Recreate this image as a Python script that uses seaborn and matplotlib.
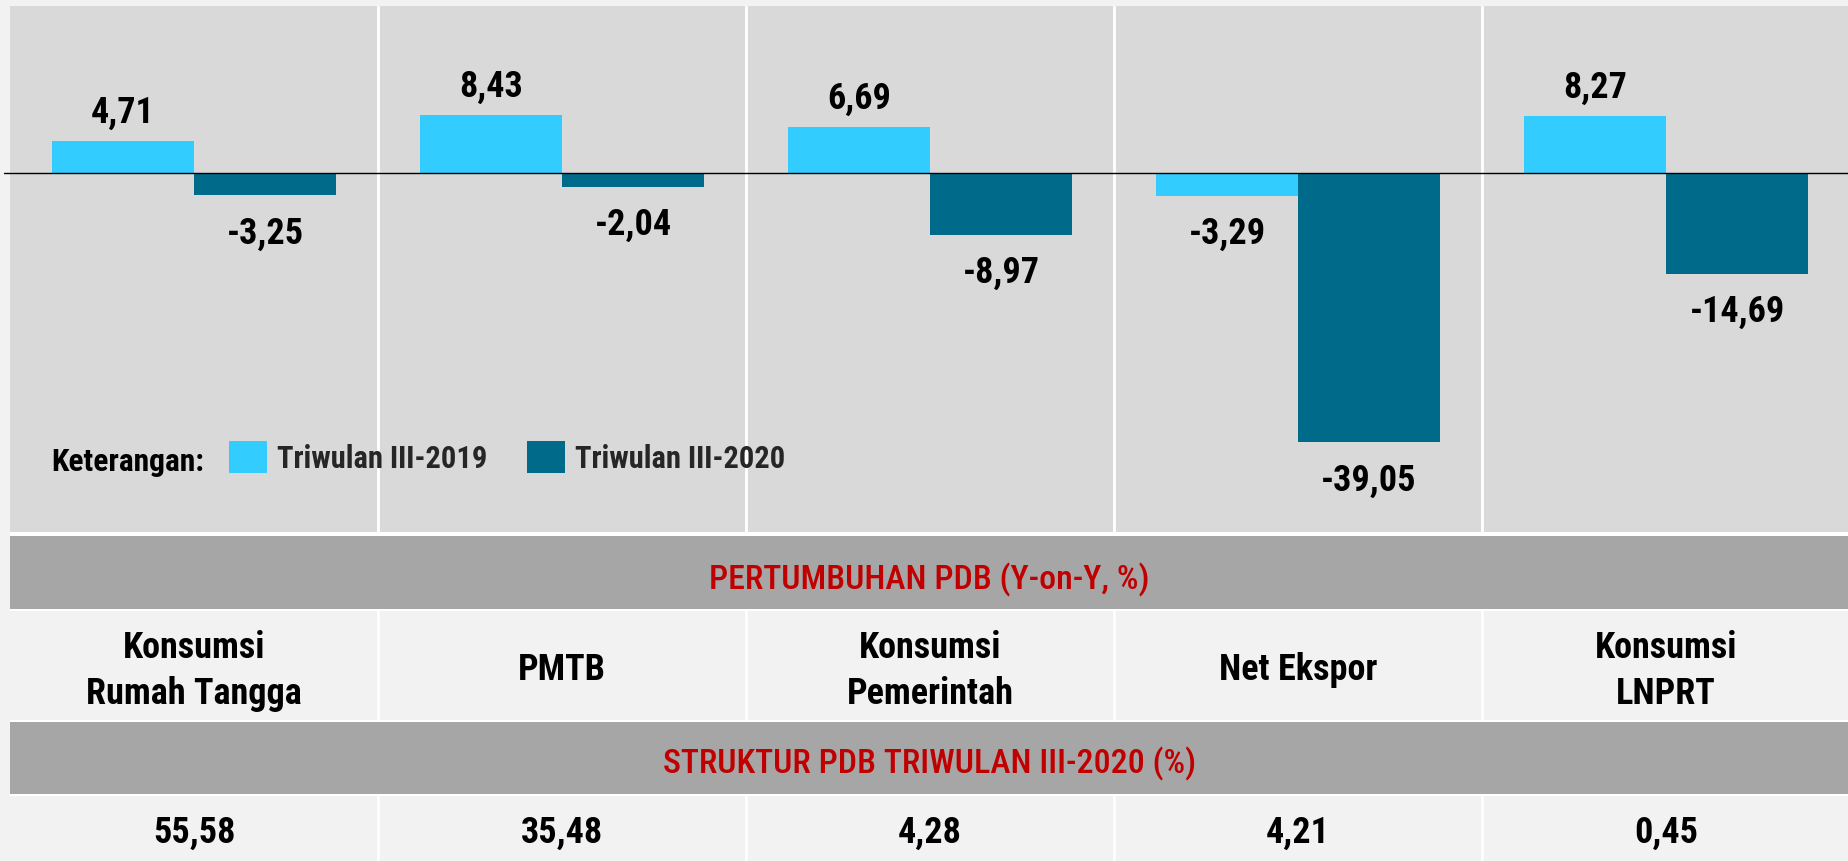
import matplotlib
matplotlib.use("Agg")
import matplotlib.pyplot as plt
import matplotlib.font_manager as fm
from matplotlib.patches import Rectangle
from matplotlib.text import Text
from matplotlib.transforms import blended_transform_factory
import seaborn as sns
import pandas as pd

# ---------------- data ----------------
categories = ["Konsumsi\nRumah Tangga", "PMTB", "Konsumsi\nPemerintah", "Net Ekspor", "Konsumsi\nLNPRT"]
series_names = ["Triwulan III-2019", "Triwulan III-2020"]
growth_2019 = [4.71, 8.43, 6.69, -3.29, 8.27]
growth_2020 = [-3.25, -2.04, -8.97, -39.05, -14.69]
struktur_2020 = [55.58, 35.48, 4.28, 4.21, 0.45]
row_title_1 = "PERTUMBUHAN PDB (Y-on-Y, %)"
row_title_2 = "STRUKTUR PDB TRIWULAN III-2020 (%)"
legend_title = "Keterangan:"

# ---------------- style ----------------
LIGHT = "#33CCFF"
DARK = "#006A8A"
PANEL = "#D9D9D9"
BG = "#F2F2F2"
BAND = "#A6A6A6"
RED = "#C00000"

W, H = 1849, 862
sns.set_theme(style="white")
available = {f.name for f in fm.fontManager.ttflist}
family = next((f for f in ["Liberation Sans Narrow", "Roboto Condensed",
                           "DejaVu Sans Condensed", "Liberation Sans"] if f in available),
              "DejaVu Sans")
plt.rcParams["font.family"] = [family, "DejaVu Sans"]


def fmt(v):
    return f"{v:.2f}".replace(".", ",")


def fx(px):
    return px / W


def fy(py):
    return 1 - py / H


fig = plt.figure(figsize=(W / 100, H / 100), dpi=100, facecolor=BG)

# ---------------- bar chart panel ----------------
AX_L, AX_R, AX_T, AX_B = 10, 1850, 7.3, 533
ax = fig.add_axes([fx(AX_L), fy(AX_B), fx(AX_R - AX_L), (AX_B - AX_T) / H])
ax.set_facecolor(PANEL)

df = pd.DataFrame({
    "kategori": categories * 2,
    "seri": [series_names[0]] * len(categories) + [series_names[1]] * len(categories),
    "nilai": growth_2019 + growth_2020,
})
sns.barplot(data=df, x="kategori", y="nilai", hue="seri", order=categories,
            hue_order=series_names, palette=[LIGHT, DARK], saturation=1,
            width=0.772, edgecolor="none", linewidth=0, ax=ax, zorder=2)

ax.set_xlim(-0.5, len(categories) - 0.5)
ax.set_ylim(-52.03, 24.16)
ax.set_xticks([])
ax.set_yticks([])
ax.set_xlabel("")
ax.set_ylabel("")
for s in ax.spines.values():
    s.set_visible(False)

for k in range(len(categories) - 1):
    ax.axvline(k + 0.5, color="white", lw=2, zorder=1)
ax.axhline(0, xmin=-0.003, xmax=1, color="black", lw=1.0, zorder=5, clip_on=False)

# value labels
for cont, vals in zip(ax.containers, [growth_2019, growth_2020]):
    for bar, v in zip(cont, vals):
        xc = bar.get_x() + bar.get_width() / 2
        off = 13.7 if v > 0 else -33.8
        ax.annotate(fmt(v), (xc, v), xytext=(0, off), textcoords="offset points",
                    ha="center", va="baseline", fontsize=26, fontweight="bold",
                    color="black", zorder=6)

# legend
handles, labels = ax.get_legend_handles_labels()
LFS = 22.0
ax.legend(handles, labels, loc="center left",
          bbox_to_anchor=(fx(229), fy(458)), bbox_transform=fig.transFigure,
          ncol=2, frameon=False, prop={"size": LFS, "weight": "bold"},
          handlelength=1.24, handleheight=1.24, handletextpad=0.33,
          columnspacing=1.29, borderpad=0, borderaxespad=0)
fig.text(fx(51), fy(471), legend_title, ha="left", va="baseline",
         fontsize=22.7, fontweight="bold", color="black")

# ---------------- table below ----------------
fig.add_artist(Rectangle((fx(AX_L), fy(H)), fx(AX_R - AX_L), (H - AX_B) / H,
                         transform=fig.transFigure, facecolor="white",
                         edgecolor="none", zorder=0))
rows = [(537.3, 610.0, BAND), (612.0, 720.7, BG), (722.7, 794.7, BAND), (797.3, 862.0, BG)]
for top, bot, col in rows:
    fig.add_artist(Rectangle((fx(AX_L), fy(bot)), fx(AX_R - AX_L), (bot - top) / H,
                             transform=fig.transFigure, facecolor=col,
                             edgecolor="none", zorder=1))

# column separators in light rows, aligned to the bar axes columns
tr = blended_transform_factory(ax.transData, fig.transFigure)
for k in range(len(categories) - 1):
    for top, bot, col in rows:
        if col == BG:
            fig.add_artist(plt.Line2D([k + 0.5, k + 0.5], [fy(top), fy(bot)],
                                      transform=tr, color="white", lw=2, zorder=2))

# band titles
cx = fx((AX_L + W) / 2)
fig.text(cx, fy(589.3), row_title_1, ha="center", va="baseline",
         fontsize=24.5, fontweight="medium", color=RED, zorder=3)
fig.text(cx, fy(773.6), row_title_2, ha="center", va="baseline",
         fontsize=24.5, fontweight="medium", color=RED, zorder=3)

# category names & structure values
for i, (name, sv) in enumerate(zip(categories, struktur_2020)):
    lines = name.split("\n")
    bases = [680.0] if len(lines) == 1 else [658.5, 704.0]
    for ln, b in zip(lines, bases):
        fig.add_artist(Text(i, fy(b), ln, transform=tr, ha="center", va="baseline",
                            fontsize=26, fontweight="bold", color="black", zorder=3))
    fig.add_artist(Text(i, fy(843.3), fmt(sv), transform=tr, ha="center",
                        va="baseline", fontsize=26, fontweight="bold",
                        color="black", zorder=3))

fig.savefig("out.png", dpi=100, facecolor=BG)
